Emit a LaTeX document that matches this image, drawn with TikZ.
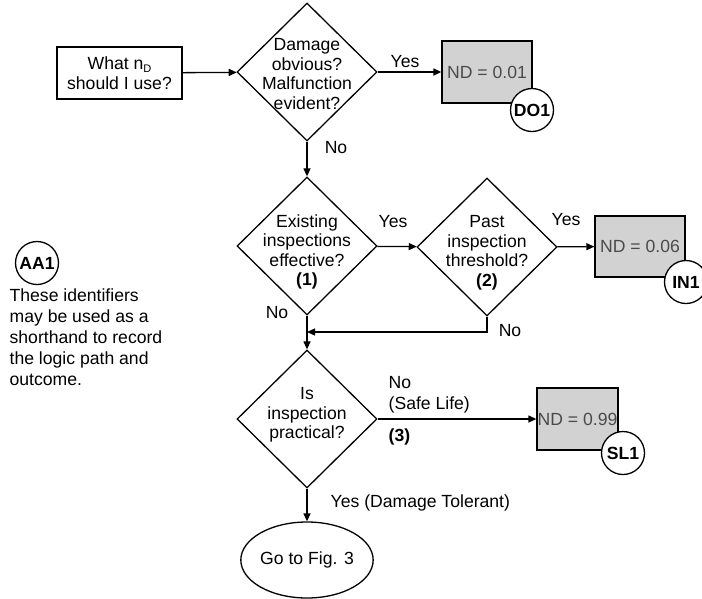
\documentclass[tikz,border=0pt]{standalone}
\usepackage{fontspec}
\setmainfont{Liberation Sans}
\usetikzlibrary{shapes.geometric,arrows.meta}
\definecolor{ndfill}{HTML}{D2D2D2}
\definecolor{ndtext}{HTML}{4A4A4A}
\begin{document}
\begin{tikzpicture}[x=1pt,y=-1pt,
  every node/.style={font=\fontsize{17.6}{19.5}\selectfont},
  line width=1.3pt,
  flow/.style={-{Triangle[length=8pt,width=7pt]}, line width=1.3pt},
  dia/.style={diamond, draw, minimum width=140pt, minimum height=138pt, inner sep=0pt},
  dtext/.style={align=center, inner sep=0pt},
  startbox/.style={draw, rectangle, minimum width=125pt, minimum height=52pt, align=center, inner sep=0pt},
  ndbox/.style={draw, rectangle, fill=ndfill, text=ndtext, minimum height=62pt, inner sep=0pt},
  idc/.style={draw, circle, fill=white, minimum size=43pt, inner sep=0pt, font=\fontsize{17.6}{19.5}\selectfont\bfseries},
  lbl/.style={inner sep=0pt},
  goto/.style={draw, ellipse, minimum width=120pt, minimum height=76pt, inner sep=0pt}
]
\useasboundingbox (0,0) rectangle (702,598);

% start
\node[startbox] (start) at (119.5,73) {What n\raisebox{-0.35ex}{\fontsize{11}{12}\selectfont D}\\should I use?};

% diamonds
\node[dia] (d1) at (307,72) {};
\node[dtext] (d1t) at (307,74) {Damage\\obvious?\\Malfunction\\evident?};
\node[dia] (d2) at (307,246) {};
\node[dtext] (d2t) at (307,252) {Existing\\inspections\\effective?\\\textbf{(1)}};
\node[dia] (d3) at (487,247) {};
\node[dtext] (d3t) at (487,253) {Past\\inspection\\threshold?\\\textbf{(2)}};
\node[dia] (d4) at (307,419) {};
\node[dtext] (d4t) at (307,415) {Is\\inspection\\practical?};

% outcome boxes
\node[ndbox, minimum width=90pt] (nd1) at (487,72) {ND = 0.01};
\node[ndbox, minimum width=90pt, minimum height=61pt] (nd2) at (640,246.5) {ND = 0.06};
\node[ndbox, minimum width=81pt] (nd3) at (577.5,419) {ND = 0.99};

% identifier circles
\node[idc] (do1) at (532,110) {DO1};
\node[idc] (in1) at (686,282) {IN1};
\node[idc] (sl1) at (623,453) {SL1};
\node[idc] (aa1) at (37,263) {AA1};

% end ellipse
\node[goto] (fig3) at (307,560) {Go to Fig. 3};

% junction
\coordinate (j) at (307,332);

% connectors
\draw[flow] (start) -- (d1);
\draw[flow] (d1) -- (nd1);
\draw[flow] (d1) -- (d2);
\draw[flow] (d2) -- (d3);
\draw[flow] (d3) -- (nd2);
\draw[flow] (d2) -- (d4);
\draw[flow] (d3.south) |- (j);
\draw[flow] (d4) -- (nd3);
\draw[flow] (d4) -- (fig3);

% connector labels
\node[lbl] (l1) at (405,62) {Yes};
\node[lbl] (l2) at (336,148) {No};
\node[lbl] (l3) at (393,222) {Yes};
\node[lbl] (l4) at (277,313) {No};
\node[lbl] (l5) at (566,220) {Yes};
\node[lbl] (l6) at (510,331) {No};
\node[lbl, anchor=west] (l7) at (388,383) {No};
\node[lbl, anchor=west] (l8) at (388,405) {(Safe Life)};
\node[lbl, anchor=west] (l9) at (388,437) {\textbf{(3)}};
\node[lbl, anchor=west] (l10) at (330,503) {Yes (Damage Tolerant)};

% legend text
\node[anchor=north west, align=left, inner sep=0pt, font=\fontsize{17.6}{21}\selectfont] (legend) at (9,288)
  {These identifiers\\may be used as a\\shorthand to record\\the logic path and\\outcome.};
\end{tikzpicture}
\end{document}
